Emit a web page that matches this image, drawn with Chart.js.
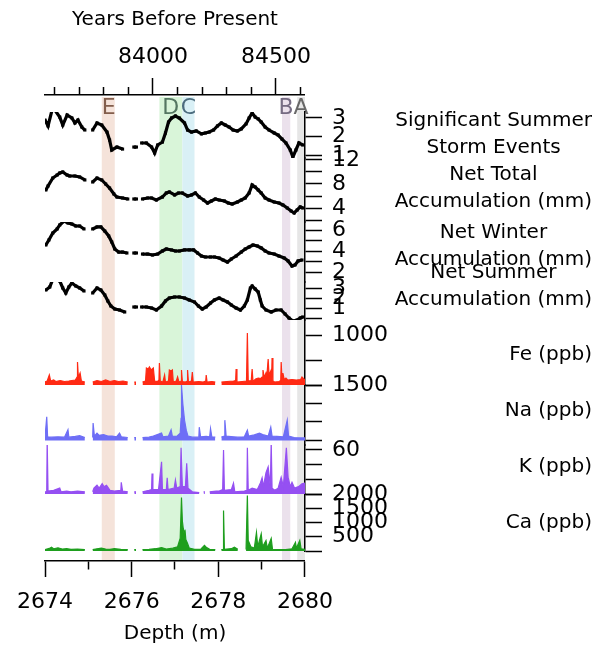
<!DOCTYPE html>
<html>
<head>
<meta charset="utf-8">
<script src="https://cdn.jsdelivr.net/npm/chart.js@4.4.1/dist/chart.umd.min.js"></script>
<style>
  html, body { margin: 0; padding: 0; background: #fff; }
  #wrap { width: 603px; height: 646px; }
</style>
</head>
<body>
<div id="wrap"><canvas id="core" width="603" height="646"></canvas></div>
<script>
// ---- Records along the core: [depth (m), value]; null marks a break in the record ----
const stormEvents = [
  [2674.00,2.89],[2674.07,2.57],[2674.18,3.59],[2674.34,3.05],[2674.41,2.62],[2674.51,3.16],[2674.62,3.00],[2674.69,2.73],[2674.76,2.89],[2674.85,2.51],[2674.92,2.35],[2675.01,null],
  [2675.10,2.35],[2675.20,2.73],[2675.31,2.62],[2675.43,2.24],[2675.49,1.81],[2675.54,1.27],[2675.66,1.43],[2675.79,1.32],[2675.92,null],
  [2676.05,1.43],[2676.11,1.43],[2676.17,null],
  [2676.23,1.65],[2676.34,1.65],[2676.46,1.43],[2676.53,1.11],[2676.60,1.54],[2676.71,1.70],[2676.78,2.19],[2676.85,2.78],[2676.92,3.00],[2677.01,3.11],[2677.10,3.00],[2677.22,2.73],[2677.29,2.35],[2677.38,2.24],[2677.49,2.30],[2677.61,2.14],[2677.70,2.19],[2677.79,2.24],[2677.89,2.35],[2677.98,2.57],[2678.07,2.73],[2678.16,2.62],[2678.25,2.51],[2678.34,2.35],[2678.44,2.30],[2678.53,2.41],[2678.64,2.68],[2678.71,3.00],[2678.78,3.27],[2678.85,3.05],[2678.92,2.95],[2678.99,2.78],[2679.08,2.51],[2679.17,2.35],[2679.29,2.19],[2679.38,2.08],[2679.47,1.86],[2679.56,1.65],[2679.66,1.27],[2679.72,0.89],[2679.79,1.27],[2679.86,1.65],[2679.95,1.54]
];
const netTotal = [
  [2674.02,7.0],[2674.07,7.67],[2674.18,9.0],[2674.28,9.5],[2674.34,9.83],[2674.41,10.0],[2674.51,9.5],[2674.57,9.33],[2674.69,9.33],[2674.80,9.17],[2674.92,8.67],[2675.01,null],
  [2675.10,8.33],[2675.20,9.0],[2675.31,8.67],[2675.40,8.0],[2675.49,7.33],[2675.59,6.33],[2675.66,5.83],[2675.79,5.67],[2675.91,5.5],[2675.98,null],
  [2676.05,5.5],[2676.11,5.5],[2676.17,null],
  [2676.25,5.5],[2676.37,5.67],[2676.46,5.67],[2676.57,5.33],[2676.71,5.83],[2676.80,6.5],[2676.87,6.67],[2676.99,6.17],[2677.08,6.5],[2677.17,6.5],[2677.29,6.0],[2677.38,6.17],[2677.47,6.5],[2677.56,5.83],[2677.66,5.33],[2677.75,4.83],[2677.84,5.17],[2677.93,5.5],[2678.02,5.33],[2678.14,5.17],[2678.23,4.83],[2678.32,4.67],[2678.44,5.0],[2678.53,5.33],[2678.62,5.67],[2678.71,6.5],[2678.78,7.83],[2678.85,7.5],[2678.92,7.0],[2678.99,6.5],[2679.08,5.67],[2679.17,5.33],[2679.29,5.0],[2679.40,4.83],[2679.49,4.5],[2679.59,4.0],[2679.68,3.5],[2679.75,3.17],[2679.82,3.67],[2679.89,4.17],[2679.95,4.0]
];
const netWinter = [
  [2674.02,4.57],[2674.09,5.05],[2674.18,5.71],[2674.28,6.10],[2674.34,6.48],[2674.44,6.86],[2674.53,6.67],[2674.62,6.57],[2674.71,6.38],[2674.80,6.38],[2674.90,6.10],[2675.00,null],
  [2675.10,6.10],[2675.20,6.29],[2675.29,6.29],[2675.38,5.90],[2675.47,5.43],[2675.54,4.86],[2675.61,4.19],[2675.70,3.90],[2675.79,3.90],[2675.89,3.81],[2675.97,null],
  [2676.05,3.81],[2676.11,3.81],[2676.17,null],
  [2676.25,3.71],[2676.37,3.71],[2676.48,3.62],[2676.60,3.71],[2676.71,4.00],[2676.80,4.19],[2676.92,4.10],[2677.01,4.00],[2677.10,4.00],[2677.22,4.10],[2677.33,4.10],[2677.43,4.10],[2677.52,3.81],[2677.61,3.52],[2677.70,3.43],[2677.82,3.43],[2677.91,3.43],[2678.02,3.33],[2678.11,3.14],[2678.21,2.95],[2678.30,3.24],[2678.41,3.52],[2678.53,3.90],[2678.62,4.19],[2678.71,4.38],[2678.80,4.57],[2678.90,4.48],[2678.99,4.29],[2679.08,4.00],[2679.17,3.81],[2679.29,3.71],[2679.40,3.52],[2679.52,3.33],[2679.61,3.05],[2679.70,2.57],[2679.77,2.67],[2679.84,3.05],[2679.93,3.14]
];
const netSummer = [
  [2674.02,2.8],[2674.11,3.1],[2674.21,4.2],[2674.28,3.9],[2674.34,3.7],[2674.41,3.0],[2674.48,2.5],[2674.55,3.1],[2674.62,3.5],[2674.71,3.2],[2674.80,3.0],[2674.90,2.7],[2675.00,null],
  [2675.10,2.5],[2675.20,3.0],[2675.29,2.8],[2675.38,2.3],[2675.45,1.7],[2675.52,1.2],[2675.61,0.9],[2675.72,0.8],[2675.84,0.6],[2675.95,null],
  [2676.05,1.1],[2676.11,1.1],[2676.17,null],
  [2676.23,1.1],[2676.34,1.1],[2676.46,1.0],[2676.57,0.8],[2676.69,1.2],[2676.78,1.7],[2676.87,2.0],[2676.99,2.1],[2677.10,2.1],[2677.22,2.0],[2677.33,1.8],[2677.45,1.6],[2677.54,1.2],[2677.63,0.9],[2677.72,1.1],[2677.82,1.5],[2677.91,1.8],[2678.02,2.0],[2678.11,1.8],[2678.21,1.6],[2678.30,1.3],[2678.41,1.0],[2678.51,0.8],[2678.60,1.2],[2678.67,1.8],[2678.74,3.0],[2678.78,3.2],[2678.85,2.9],[2678.92,2.6],[2678.97,1.8],[2679.01,1.2],[2679.10,0.8],[2679.22,0.6],[2679.33,0.8],[2679.45,0.8],[2679.54,0.4],[2679.63,0.0],[2679.72,-0.3],[2679.82,-0.2],[2679.89,0.0],[2679.95,0.1]
];
const iron = [
  [2674.00,60],[2674.05,80],[2674.10,200],[2674.13,80],[2674.20,100],[2674.25,70],[2674.35,90],[2674.45,70],[2674.55,80],[2674.62,90],[2674.70,100],[2674.74,160],[2674.75,460],[2674.77,150],[2674.81,240],[2674.84,80],[2674.92,60],[2675.01,null],
  [2675.10,60],[2675.20,90],[2675.30,70],[2675.40,100],[2675.50,70],[2675.60,90],[2675.70,70],[2675.80,80],[2675.91,60],[2675.98,null],
  [2676.06,60],[2676.10,60],[2676.17,null],
  [2676.25,60],[2676.32,80],[2676.34,340],[2676.38,320],[2676.41,360],[2676.45,300],[2676.50,340],[2676.53,80],[2676.60,70],[2676.63,100],[2676.64,440],[2676.66,80],[2676.72,60],[2676.76,200],[2676.78,60],[2676.85,80],[2676.87,300],[2676.91,280],[2676.94,300],[2676.96,60],[2677.03,80],[2677.06,160],[2677.09,60],[2677.14,80],[2677.15,300],[2677.17,70],[2677.24,60],[2677.28,80],[2677.29,300],[2677.31,60],[2677.38,80],[2677.40,260],[2677.42,60],[2677.55,70],[2677.65,60],[2677.71,80],[2677.72,200],[2677.74,60],[2677.85,70],[2677.93,60],[2678.00,null],
  [2678.07,60],[2678.20,70],[2678.35,80],[2678.40,90],[2678.41,320],[2678.43,60],[2678.55,70],[2678.65,80],[2678.67,1040],[2678.69,80],[2678.76,90],[2678.78,320],[2678.80,70],[2678.86,120],[2678.92,140],[2678.98,130],[2679.01,160],[2679.03,300],[2679.06,150],[2679.10,240],[2679.12,180],[2679.15,520],[2679.17,200],[2679.20,260],[2679.22,300],[2679.23,150],[2679.24,540],[2679.26,80],[2679.30,60],[2679.40,70],[2679.44,90],[2679.45,460],[2679.47,100],[2679.49,240],[2679.52,110],[2679.56,140],[2679.60,100],[2679.70,110],[2679.80,100],[2679.90,110],[2679.93,160],[2680.00,100]
];
const sodium = [
  [2674.00,80],[2674.04,640],[2674.06,100],[2674.15,90],[2674.30,100],[2674.45,90],[2674.53,290],[2674.55,90],[2674.70,110],[2674.80,130],[2674.92,80],[2675.01,null],
  [2675.10,80],[2675.11,470],[2675.14,120],[2675.20,200],[2675.25,140],[2675.35,160],[2675.45,120],[2675.55,120],[2675.65,100],[2675.72,200],[2675.76,100],[2675.91,80],[2675.98,null],
  [2676.06,80],[2676.10,80],[2676.17,null],
  [2676.25,80],[2676.40,90],[2676.50,120],[2676.69,200],[2676.72,100],[2676.85,120],[2676.91,290],[2676.94,110],[2677.05,120],[2677.12,200],[2677.14,600],[2677.15,1500],[2677.18,1000],[2677.22,550],[2677.26,280],[2677.30,120],[2677.40,90],[2677.55,90],[2677.56,360],[2677.59,100],[2677.72,110],[2677.80,100],[2677.82,320],[2677.85,100],[2677.93,90],[2678.00,null],
  [2678.07,90],[2678.14,120],[2678.15,550],[2678.18,120],[2678.35,100],[2678.45,90],[2678.60,100],[2678.67,280],[2678.70,120],[2678.83,150],[2678.95,200],[2679.05,150],[2679.15,120],[2679.21,360],[2679.24,120],[2679.35,110],[2679.50,100],[2679.59,550],[2679.62,120],[2679.75,80],[2679.90,70],[2680.00,70]
];
const potassium = [
  [2674.00,3],[2674.04,3],[2674.05,74],[2674.07,4],[2674.20,5],[2674.34,8],[2674.37,3],[2674.50,4],[2674.60,3],[2674.75,4],[2674.92,3],[2675.01,null],
  [2675.10,3],[2675.13,8],[2675.20,12],[2675.25,8],[2675.32,14],[2675.36,10],[2675.42,12],[2675.50,5],[2675.60,4],[2675.75,5],[2675.76,16],[2675.79,4],[2675.91,3],[2675.98,null],
  [2676.06,3],[2676.10,3],[2676.17,null],
  [2676.25,3],[2676.40,5],[2676.46,6],[2676.47,28],[2676.49,6],[2676.62,6],[2676.69,44],[2676.71,6],[2676.80,6],[2676.82,22],[2676.84,6],[2676.98,8],[2677.01,19],[2677.04,8],[2677.12,10],[2677.14,63],[2677.17,10],[2677.24,10],[2677.27,42],[2677.30,8],[2677.40,3],[2677.56,2],[2677.61,null],
  [2677.66,3],[2677.69,3],[2677.74,null],
  [2677.80,3],[2677.95,4],[2678.02,4],[2678.10,6],[2678.12,60],[2678.14,5],[2678.30,6],[2678.35,15],[2678.38,3],[2678.60,4],[2678.66,5],[2678.67,63],[2678.69,5],[2678.78,8],[2678.90,6],[2678.97,15],[2679.01,22],[2679.04,10],[2679.10,29],[2679.15,37],[2679.20,10],[2679.22,71],[2679.24,8],[2679.30,5],[2679.38,8],[2679.45,23],[2679.50,10],[2679.57,63],[2679.61,23],[2679.66,10],[2679.70,16],[2679.76,8],[2679.85,10],[2679.93,14],[2680.00,15]
];
const calcium = [
  [2674.00,50],[2674.10,90],[2674.15,130],[2674.20,80],[2674.30,110],[2674.40,70],[2674.50,80],[2674.60,60],[2674.75,70],[2674.92,50],[2675.01,null],
  [2675.10,50],[2675.20,80],[2675.30,100],[2675.40,70],[2675.50,60],[2675.60,80],[2675.75,60],[2675.91,50],[2675.98,null],
  [2676.06,50],[2676.10,50],[2676.17,null],
  [2676.25,50],[2676.40,60],[2676.55,80],[2676.69,120],[2676.80,70],[2676.95,100],[2677.06,150],[2677.12,450],[2677.15,1880],[2677.17,1050],[2677.19,800],[2677.21,600],[2677.23,750],[2677.25,400],[2677.29,260],[2677.33,100],[2677.45,60],[2677.60,70],[2677.68,200],[2677.73,120],[2677.80,60],[2677.93,50],[2678.00,null],
  [2678.07,50],[2678.11,60],[2678.12,1420],[2678.14,60],[2678.30,80],[2678.37,130],[2678.45,60],[2678.55,null],
  [2678.64,50],[2678.67,1950],[2678.69,370],[2678.75,150],[2678.83,100],[2678.88,650],[2678.91,150],[2678.99,600],[2679.02,150],[2679.10,370],[2679.13,100],[2679.22,440],[2679.25,60],[2679.40,50],[2679.55,50],[2679.70,80],[2679.78,300],[2679.80,100],[2679.88,370],[2679.91,80],[2680.00,60]
];

// ---- Event intervals (depth, m) ----
const eventNames = ['E', 'D', 'C', 'B', 'A'];
const eventLabelDepth = [2675.47, 2676.90, 2677.31, 2679.56, 2679.91];
const shadeStart = [2675.31, 2676.64, 2677.17, 2679.47, 2679.82];
const shadeEnd   = [2675.61, 2677.17, 2677.45, 2679.66, 2680.00];

// ---- Axis ranges and ticks ----
const depthRange = [2674, 2680];
const depthTicks = [2674, 2675, 2676, 2677, 2678, 2679, 2680];
const depthLabels = [2674, 2676, 2678, 2680];
const yearRange = [83561, 84618];
const yearTicks = [83600, 83700, 83800, 83900, 84000, 84100, 84200, 84300, 84400, 84500, 84600];
const yearLabels = [84000, 84500];

const stormRange = [0.838, 3.324],  stormTicks = [1, 2, 3],             stormLabels = [1, 2, 3];
const totalRange = [1.667, 12.333], totalTicks = [2, 4, 6, 8, 10, 12],  totalLabels = [4, 8, 12];
const winterRange = [1.048, 6.762], winterTicks = [2, 3, 4, 5, 6],      winterLabels = [2, 4, 6];
const summerRange = [-0.2, 3.6],    summerTicks = [0, 1, 2, 3],         summerLabels = [1, 2, 3];
const feRange = [0, 1300],          feTicks = [0, 500, 1000],           feLabels = [1000];
const naRange = [-122, 1500],       naTicks = [0, 500, 1000, 1500],     naLabels = [1500];
const kRange = [0, 66.8],           kTicks = [0, 20, 40, 60],           kLabels = [60];
const caRange = [0, 2000],          caTicks = [0, 500, 1000, 1500, 2000], caLabels = [500, 1000, 1500, 2000];

// ---- Drawing ----
const FONT = "'DejaVu Sans', sans-serif";
Chart.defaults.font.family = FONT;
Chart.defaults.color = '#000';

const pts = (rows) => rows.map(r => ({ x: r[0], y: r[1] }));
const RIGHT_WIDTH = 298;

function panelAxis(range, ticks, labels, weight, stackWeight) {
  return {
    type: 'linear', axis: 'y', position: 'right', stack: 'panels', stackWeight, weight,
    min: range[0], max: range[1], bounds: 'data',
    afterBuildTicks: (s) => { s.ticks = ticks.map(v => ({ value: v })); },
    afterFit: (s) => { s.width = RIGHT_WIDTH; },
    ticks: {
      autoSkip: false, padding: 10, font: { size: 22 }, color: '#000',
      callback: (v) => labels.includes(v) ? String(v) : ''
    },
    grid: { drawOnChartArea: false, tickLength: 17, tickWidth: 1.5, tickColor: '#000' },
    border: { display: true, color: '#000', width: 1.5 }
  };
}
function spacerAxis(weight, stackWeight) {
  return {
    type: 'linear', axis: 'y', position: 'right', stack: 'panels', stackWeight, weight,
    min: 0, max: 1, bounds: 'data',
    afterFit: (s) => { s.width = RIGHT_WIDTH; },
    ticks: { display: false }, grid: { display: false }, border: { display: false }
  };
}

// thick black records, drawn as chunky square marks joined by a heavy line
const blackLine = (label, rows, axis) => ({
  label, data: pts(rows), yAxisID: axis, borderColor: '#000', backgroundColor: '#000',
  borderWidth: 3.2, pointStyle: 'rect', pointRadius: 2.2, pointBorderWidth: 0,
  tension: 0, spanGaps: false, fill: false, borderJoinStyle: 'miter'
});
// chemistry records: thin spiky traces filled down to zero
const spikeLine = (label, rows, axis, color) => ({
  label, data: pts(rows), yAxisID: axis, borderColor: color, backgroundColor: color,
  borderWidth: 1.2, pointRadius: 0, tension: 0, spanGaps: false, fill: 'origin'
});

const shading = {
  id: 'eventShading',
  beforeDraw(chart) {
    const { ctx, chartArea: a, scales: { x } } = chart;
    const fills = ['#f5e3da', '#d9f5d9', '#d9f0f6', '#ebe1ec', '#e6e6e6'];
    const inks = ['rgba(110,70,50,0.85)', 'rgba(60,95,75,0.85)', 'rgba(50,85,105,0.85)', 'rgba(95,85,110,0.85)', 'rgba(80,80,80,0.85)'];
    ctx.save();
    shadeStart.forEach((s, i) => {
      const x0 = x.getPixelForValue(s), x1 = x.getPixelForValue(shadeEnd[i]);
      ctx.fillStyle = fills[i];
      ctx.fillRect(x0, a.top + 2, x1 - x0, a.bottom - a.top - 2);
    });
    ctx.font = '22px ' + FONT;
    ctx.textAlign = 'center';
    ctx.textBaseline = 'middle';
    eventNames.forEach((n, i) => {
      ctx.fillStyle = inks[i];
      ctx.fillText(n, x.getPixelForValue(eventLabelDepth[i]), a.top + 13);
    });
    ctx.restore();
  }
};

const seriesTitles = {
  id: 'seriesTitles',
  afterDraw(chart) {
    const { ctx } = chart;
    const blocks = [
      ['yStorm', ['Significant Summer', 'Storm Events'], -1],
      ['yTotal', ['Net Total', 'Accumulation (mm)'], -1.5],
      ['yWinter', ['Net Winter', 'Accumulation (mm)'], -6],
      ['ySummer', ['Net Summer', 'Accumulation (mm)'], -14.5],
      ['yFe', ['Fe (ppb)'], 2.5],
      ['yNa', ['Na (ppb)'], -4],
      ['yK', ['K (ppb)'], -2.5],
      ['yCa', ['Ca (ppb)'], 0]
    ];
    const rightEdge = chart.width - 11;
    ctx.save();
    ctx.font = '20px ' + FONT;
    ctx.fillStyle = '#000';
    ctx.textAlign = 'center';
    ctx.textBaseline = 'middle';
    blocks.forEach(([id, lines, dy]) => {
      const s = chart.scales[id];
      const cy = (s.top + s.bottom) / 2 + dy;
      const w = Math.max(...lines.map(t => ctx.measureText(t).width));
      const cx = rightEdge - w / 2;
      lines.forEach((t, i) => ctx.fillText(t, cx, cy + (i - (lines.length - 1) / 2) * 27));
    });
    ctx.restore();
  }
};

new Chart(document.getElementById('core'), {
  type: 'line',
  data: {
    datasets: [
      blackLine('Significant Summer Storm Events', stormEvents, 'yStorm'),
      blackLine('Net Total Accumulation (mm)', netTotal, 'yTotal'),
      blackLine('Net Winter Accumulation (mm)', netWinter, 'yWinter'),
      blackLine('Net Summer Accumulation (mm)', netSummer, 'ySummer'),
      spikeLine('Fe (ppb)', iron, 'yFe', '#ff2a14'),
      spikeLine('Na (ppb)', sodium, 'yNa', '#6e6ef6'),
      spikeLine('K (ppb)', potassium, 'yK', '#9550f2'),
      spikeLine('Ca (ppb)', calcium, 'yCa', '#1e9e1e')
    ]
  },
  options: {
    responsive: false,
    animation: false,
    events: [],
    layout: { padding: { left: 45, right: 0, top: 0, bottom: 0 } },
    plugins: { legend: { display: false }, tooltip: { enabled: false } },
    scales: {
      x: {
        type: 'linear', position: 'bottom', min: depthRange[0], max: depthRange[1], bounds: 'data',
        afterBuildTicks: (s) => { s.ticks = depthTicks.map(v => ({ value: v })); },
        afterFit: (s) => { s.height = 85; },
        ticks: {
          autoSkip: false, maxRotation: 0, padding: 12, font: { size: 22 }, color: '#000',
          callback: (v) => depthLabels.includes(v) ? String(v) : ''
        },
        grid: {
          drawOnChartArea: false, tickLength: 16, tickWidth: 1.5, tickColor: '#000',
          tickBorderDash: (c) => (c.tick && depthLabels.includes(c.tick.value)) ? [] : [8, 100]
        },
        border: { color: '#000', width: 1.5 },
        title: { display: true, text: 'Depth (m)', font: { size: 20 }, color: '#000', padding: { top: 0, bottom: 0 } }
      },
      years: {
        type: 'linear', axis: 'x', position: 'top', min: yearRange[0], max: yearRange[1], bounds: 'data',
        afterBuildTicks: (s) => { s.ticks = yearTicks.map(v => ({ value: v })); },
        afterFit: (s) => { s.height = 95; },
        ticks: {
          autoSkip: false, maxRotation: 0, padding: 8, font: { size: 22 }, color: '#000',
          callback: (v) => yearLabels.includes(v) ? String(v) : ''
        },
        grid: {
          drawOnChartArea: false, tickLength: 17, tickWidth: 1.5, tickColor: '#000',
          tickBorderDash: (c) => (c.tick && yearLabels.includes(c.tick.value)) ? [] : [0, 9, 100]
        },
        border: { color: '#000', width: 1.5 },
        title: { display: true, text: 'Years Before Present', font: { size: 20 }, color: '#000', padding: { top: 8, bottom: 0 } }
      },
      yTop: spacerAxis(1, 17),
      yStorm: panelAxis(stormRange, stormTicks, stormLabels, 2, 46),
      yTotal: panelAxis(totalRange, totalTicks, totalLabels, 3, 64),
      yWinter: panelAxis(winterRange, winterTicks, winterLabels, 4, 60),
      ySummer: panelAxis(summerRange, summerTicks, summerLabels, 5, 38),
      yFe: panelAxis(feRange, feTicks, feLabels, 6, 65),
      yNa: panelAxis(naRange, naTicks, naLabels, 7, 60),
      yK: panelAxis(kRange, kTicks, kLabels, 8, 49),
      yCa: panelAxis(caRange, caTicks, caLabels, 9, 57),
      yBottom: spacerAxis(10, 10)
    }
  },
  plugins: [shading, seriesTitles]
});
</script>
</body>
</html>
